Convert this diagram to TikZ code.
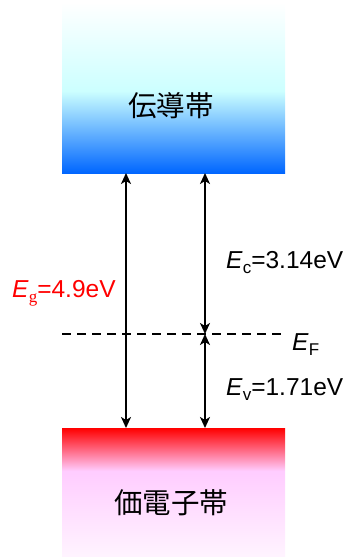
\documentclass[tikz,border=0pt]{standalone}
\usepackage{fontspec}
\setmainfont{Liberation Sans}
\newfontfamily\jpfont{Noto Sans CJK JP}
\newfontfamily\serifsub{Liberation Serif}
\usetikzlibrary{arrows.meta}
\definecolor{cbblue}{RGB}{0,102,255}
\definecolor{cbcyan}{RGB}{204,255,255}
\definecolor{vbred}{RGB}{255,0,0}
\definecolor{vbpink}{RGB}{255,204,255}
\definecolor{vbpale}{RGB}{255,244,255}
% path box maps to 25bp (bottom) .. 75bp (top)
\pgfdeclareverticalshading{condshade}{100bp}{color(0bp)=(cbblue); color(25bp)=(cbblue); color(49bp)=(cbcyan); color(75bp)=(white); color(100bp)=(white)}
\pgfdeclareverticalshading{valshade}{100bp}{color(0bp)=(vbpale); color(25bp)=(vbpale); color(58.5bp)=(vbpink); color(75bp)=(vbred); color(100bp)=(vbred)}
\tikzset{
  band/.style={draw=none, minimum width=223pt, inner sep=0pt, anchor=north west},
  bandlabel/.style={font=\jpfont\fontsize{28.5}{31}\selectfont, inner sep=0pt},
  dbl/.style={line width=2pt, {Stealth[length=11pt,width=10pt,inset=3pt]}-{Stealth[length=11pt,width=10pt,inset=3pt]}},
  val/.style={font=\fontsize{24.5}{27}\selectfont, inner sep=0pt, anchor=base west},
  fermi/.style={line width=1.3pt, dash pattern=on 9pt off 6pt}
}
\newcommand{\subc}[1]{\raisebox{-5pt}{\fontsize{17}{19}\selectfont #1}}
\begin{document}
\begin{tikzpicture}[x=1pt,y=-1pt]
\useasboundingbox (0,0) rectangle (346,557);
% bands
\node[band, shading=condshade, minimum height=171pt] (cb) at (62,2) {};
\node[band, shading=valshade, minimum height=129pt] (vb) at (62,428) {};
\node[bandlabel] (cbl) at (171,106) {伝導帯};
\node[bandlabel] (vbl) at (171,503) {価電子帯};
% Fermi level
\coordinate (fl) at (62,334);
\coordinate (fr) at (284,334);
\draw[fermi] (fl) -- (fr);
\coordinate (ef) at (205,334);
% arrows
\coordinate (gt) at (126,173);
\coordinate (gb) at (126,428);
\coordinate (ct) at (205,173);
\coordinate (vb2) at (205,428);
\draw[dbl] (gt) -- (gb);
\draw[dbl] (ct) -- (ef);
\draw[dbl] (ef) -- (vb2);
% labels
\node[val, text=red] (eg) at (12,297) {\textit{E}\subc{\serifsub g}=4.9eV};
\node[val] (ec) at (226,268) {\textit{E}\subc{c}=3.14eV};
\node[val] (ev) at (226,395) {\textit{E}\subc{v}=1.71eV};
\node[val] (efl) at (292,350) {\textit{E}\subc{F}};
\end{tikzpicture}
\end{document}
